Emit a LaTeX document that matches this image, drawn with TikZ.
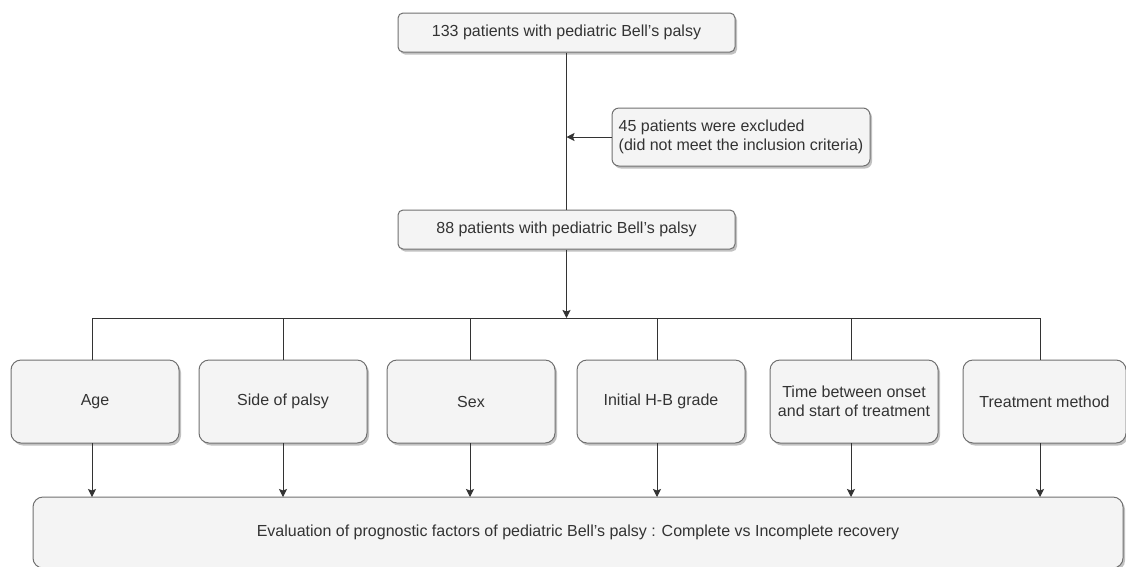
\documentclass[tikz,border=0pt]{standalone}
\usepackage{fontspec}
\setmainfont{Liberation Sans}
\usetikzlibrary{shadows,arrows.meta}
\definecolor{boxfill}{HTML}{F4F4F4}
\definecolor{boxline}{HTML}{707070}
\definecolor{lnk}{HTML}{333333}
\tikzset{
  x=1pt, y=-1pt,
  basebox/.style={draw=boxline, fill=boxfill, line width=1pt, align=center,
    font=\fontsize{16}{19}\selectfont, text=black!80, inner sep=0pt,
    drop shadow={shadow xshift=2pt, shadow yshift=-2.5pt, opacity=0.4, fill=black!60}},
  flatbox/.style={basebox, rounded corners=5pt, minimum width=337pt, minimum height=39pt},
  factor/.style={basebox, rounded corners=10pt, minimum width=168pt, minimum height=83pt},
  link/.style={draw=lnk, line width=1pt},
  arr/.style={link, -{Stealth[length=8pt,width=8pt,inset=1.5pt]}}
}
\begin{document}
\begin{tikzpicture}
\useasboundingbox (0,0) rectangle (1126,566);
\fill[white] (0,0) rectangle (1126,566);

\node[flatbox] (top) at (566.5,32.5) {133 patients with pediatric Bell’s palsy};
\node[basebox, rounded corners=7pt, minimum width=258pt, minimum height=58pt, align=left] (excl) at (741,137)
  {45 patients were excluded\\(did not meet the inclusion criteria)};
\node[flatbox] (mid) at (566.5,229.5) {88 patients with pediatric Bell’s palsy};

\node[factor] (age) at (95,401.5) {Age};
\node[factor] (side) at (283,401.5) {Side of palsy};
\node[factor] (sex) at (471,401.5) {Sex};
\node[factor] (hb) at (661,401.5) {Initial H-B grade};
\node[factor] (time) at (854,401.5) {Time between onset\\and start of treatment};
\node[factor, minimum width=163pt] (trt) at (1044.5,401.5) {Treatment method};

\node[basebox, rounded corners=10pt, minimum width=1090pt, minimum height=71pt] (eval) at (578,532.5)
  {Evaluation of prognostic factors of pediatric Bell's palsy : Complete vs Incomplete recovery};

\coordinate (j1) at (566.5,137);
\coordinate (hbus) at (566.5,318);
\coordinate (lb) at (92,318);
\coordinate (rb) at (1040,318);

\draw[link] (top.south) -- (mid.north);
\draw[arr] (excl.west) -- (j1);
\draw[arr] (mid.south) -- (hbus);
\draw[link] (lb) -- (rb);

\foreach \n/\x in {age/92, side/283, sex/470, hb/657, time/851, trt/1040}{
  \draw[link] (\x,318) -- (\x,360);
  \draw[arr] (\x,443) -- (\x,497);
}
\end{tikzpicture}
\end{document}
